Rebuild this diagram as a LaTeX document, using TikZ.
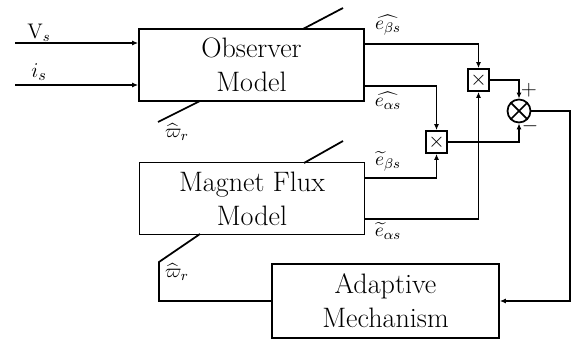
\documentclass[tikz,border=0pt]{standalone}
\usepackage{amsmath,amssymb}
\usetikzlibrary{arrows.meta,positioning}

\begin{document}
\begin{tikzpicture}[
  x=0.02cm, y=-0.02cm,
  line width=1pt,
  box/.style={rectangle, draw=black, line width=1pt, minimum width=4.5cm, minimum height=1.44cm,
              inner sep=0pt, align=center, font=\fontsize{16}{19.5}\selectfont},
  mult/.style={rectangle, draw=black, minimum width=0.42cm, minimum height=0.44cm, inner sep=0pt,
              font=\fontsize{13}{13}\selectfont},
  sumnode/.style={circle, draw=black, minimum size=0.46cm, inner sep=0pt,
              path picture={\draw (path picture bounding box.south west) -- (path picture bounding box.north east)
                                  (path picture bounding box.north west) -- (path picture bounding box.south east);}},
  lbl/.style={inner sep=0pt, font=\fontsize{11}{13}\selectfont},
  arr/.style={-{Latex[length=1.2mm,width=1mm]}}
]
\useasboundingbox (0,0) rectangle (571,340);
% blocks
\node[box] (obs)   at (251.5,65)  {Observer\\Model};
\node[box] (flux)  at (252,198.5) {Magnet Flux\\Model};
\node[box, minimum width=4.54cm, minimum height=1.48cm] (adapt) at (385.5,301) {Adaptive\\Mechanism};
\node[mult] (mulb) at (478.5,80)  {$\times$};
\node[mult] (mula) at (436.5,142) {$\times$};
\node[sumnode] (sum) at (519,111) {};
% inputs
\coordinate (vin) at (15,43);
\coordinate (iin) at (15,85);
\draw[arr] (vin) -- (vin -| obs.west);
\draw[arr] (iin) -- (iin -| obs.west);
\node[inner sep=0pt, font=\fontsize{12}{14}\selectfont] (vlbl) at (39,33) {$\mathrm{V}_s$};
\node[inner sep=0pt, font=\fontsize{13}{15}\selectfont] (ilbl) at (39,72) {$i_s$};
% speed inputs
\draw (303,29) -- (343,8);
\draw (200,101) -- (158,122);
\draw (304,163) -- (343,141);
\node[lbl] (wobs)  at (177,132) {$\widehat{\varpi}_r$};
\node[lbl] (wflux) at (177,272) {$\widehat{\varpi}_r$};
% observer outputs
\draw[arr] (obs.east |- 0,44) -| (mulb.north);
\draw[arr] (obs.east |- 0,86) -| (mula.north);
\node[lbl] (ebh) at (388,25)  {$\widehat{e_{\beta s}}$};
\node[lbl] (eah) at (388,101) {$\widehat{e_{\alpha s}}$};
% flux model outputs
\draw[arr] (flux.east |- 0,178) -| (mula.south);
\draw[arr] (flux.east |- 0,219) -| (mulb.south);
\node[lbl] (ebt) at (388,161) {$\widetilde{e}_{\beta s}$};
\node[lbl] (eat) at (388,231) {$\widetilde{e}_{\alpha s}$};
% error
\draw[arr] (mulb.east) -| (sum.north);
\draw[arr] (mula.east) -| (sum.south);
\node[inner sep=0pt, font=\large] (plus)  at (529,90)  {$+$};
\node[inner sep=0pt, font=\large] (minus) at (530,126) {$-$};
% adaptation loop
\coordinate (corner) at (570,111);
\draw[arr] (sum.east) -- (corner) |- (adapt.east);
\draw (adapt.west) -| (159,262) -- (200,234);
\end{tikzpicture}
\end{document}
